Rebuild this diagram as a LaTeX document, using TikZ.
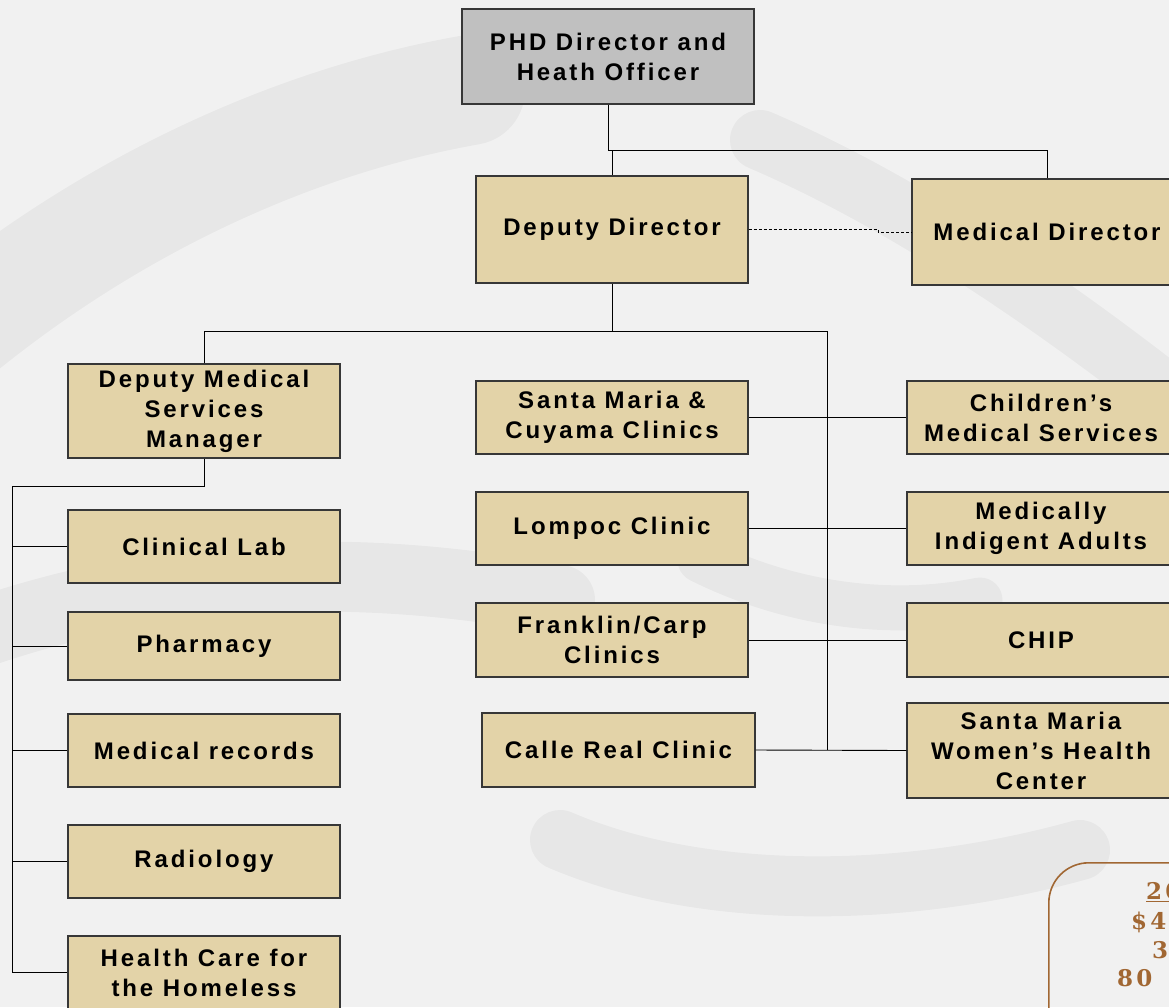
\documentclass[tikz,border=0pt]{standalone}
\usepackage{fontspec}
\newfontfamily\boxfont{Liberation Sans}[LetterSpace=12]
\newfontfamily\notefont{DejaVu Serif}[LetterSpace=14]
\definecolor{tan}{RGB}{227,211,168}
\definecolor{gbox}{RGB}{192,192,192}
\definecolor{bord}{RGB}{55,55,55}
\definecolor{brn}{RGB}{161,103,51}
\definecolor{bg}{RGB}{241,241,241}
\tikzset{
  x=1pt,y=-1pt,
  unit/.style={draw=bord, line width=1.1pt, fill=tan, inner sep=0pt, align=center,
    font=\boxfont\bfseries\fontsize{24}{30}\selectfont, text=black},
  topunit/.style={unit, fill=gbox},
  link/.style={draw=black, line width=0.9pt},
  dotlink/.style={draw=black, line width=0.9pt, dash pattern=on 3pt off 2pt},
  notetext/.style={text=brn, inner sep=0pt, font=\notefont\bfseries\fontsize{23}{28}\selectfont},
  swirl/.style={line cap=round, draw=black, draw opacity=0.04}
}
\begin{document}
\begin{tikzpicture}
\useasboundingbox (0,0) rectangle (1169,1007);
\clip (0,0) rectangle (1169,1007);
\fill[bg] (0,0) rectangle (1169,1007);
% faint background swirls
\draw[swirl, line width=110pt] (-40,330) .. controls (120,200) and (300,120) .. (470,90);
\draw[swirl, line width=70pt] (-40,640) .. controls (150,570) and (350,560) .. (560,600);
\draw[swirl, line width=45pt] (700,560) .. controls (780,600) and (880,620) .. (980,600);
\draw[swirl, line width=60pt] (560,840) .. controls (700,900) and (900,900) .. (1080,850);
\draw[swirl, line width=60pt] (760,140) .. controls (900,200) and (1050,300) .. (1200,420);

% boxes
\node[topunit, minimum width=292pt, minimum height=95pt] (phd) at (608,56.5) {PHD Director and\\Heath Officer};
\node[unit, minimum width=272pt, minimum height=107pt] (dep) at (612,229.5) {Deputy Director};
\node[unit, minimum width=270pt, minimum height=106pt] (med) at (1047,232) {Medical Director};
\node[unit, minimum width=272pt, minimum height=94pt] (dmsm) at (204,411) {Deputy Medical\\Services\\Manager};

\node[unit, minimum width=272pt, minimum height=73pt] (sm) at (612,417.5) {Santa Maria \&\\Cuyama Clinics};
\node[unit, minimum width=272pt, minimum height=73pt] (lom) at (612,528.5) {Lompoc Clinic};
\node[unit, minimum width=272pt, minimum height=74pt] (fr) at (612,640) {Franklin/Carp\\Clinics};
\node[unit, minimum width=273pt, minimum height=74pt] (cr) at (618.5,750) {Calle Real Clinic};

\node[unit, minimum width=268pt, minimum height=73pt] (ch) at (1041,417.5) {Children’s\\Medical Services};
\node[unit, minimum width=268pt, minimum height=73pt] (mia) at (1041,528.5) {Medically\\Indigent Adults};
\node[unit, minimum width=268pt, minimum height=74pt] (chip) at (1041,640) {CHIP};
\node[unit, minimum width=268pt, minimum height=95pt] (smw) at (1041,750.5) {Santa Maria\\Women’s Health\\Center};

\node[unit, minimum width=272pt, minimum height=73pt] (cl) at (204,546.5) {Clinical Lab};
\node[unit, minimum width=272pt, minimum height=68pt] (ph) at (204,646) {Pharmacy};
\node[unit, minimum width=272pt, minimum height=73pt] (mr) at (204,750.5) {Medical records};
\node[unit, minimum width=272pt, minimum height=73pt] (rad) at (204,861.5) {Radiology};
\node[unit, minimum width=272pt, minimum height=73pt] (hc) at (204,972.5) {Health Care for\\the Homeless};

% summary frame (cut by the right edge, as in the original)
\node[draw=brn, line width=1.6pt, rounded corners=40pt, minimum width=260pt, minimum height=220pt, anchor=north west] (note) at (1048,862) {};
\node[notetext, anchor=west] (n1) at (1146,892) {\underline{20}};
\node[notetext, anchor=west] (n2) at (1131,922) {\$4};
\node[notetext, anchor=west] (n3) at (1152,950) {3};
\node[notetext, anchor=west] (n4) at (1117,978) {80};

% junction points
\coordinate (j1) at (612,150);
\coordinate (busT) at (612,331);
\coordinate (busR) at (827,331);
\coordinate (busB) at (827,750);
\coordinate (lt) at (12,486);
\coordinate (dstep) at (878,229.5);

% connectors
\draw[link] (phd.south) -- (608,150) -| (med.north);
\draw[link] (j1) -- (dep.north);
\draw[link] (dep.south) -- (busT);
\draw[link] (dmsm.north) |- (busR) -- (busB);
\draw[dotlink] (dep.east) -- (dstep) |- (med.west);

\draw[link] (sm.east) -- (ch.west);
\draw[link] (lom.east) -- (mia.west);
\draw[link] (fr.east) -- (chip.west);
\draw[link] (cr.east) -- (smw.west);

\draw[link] (dmsm.south) |- (lt) |- (hc.west);
\draw[link] (lt |- cl.west) -- (cl.west);
\draw[link] (lt |- ph.west) -- (ph.west);
\draw[link] (lt |- mr.west) -- (mr.west);
\draw[link] (lt |- rad.west) -- (rad.west);
\end{tikzpicture}
\end{document}
